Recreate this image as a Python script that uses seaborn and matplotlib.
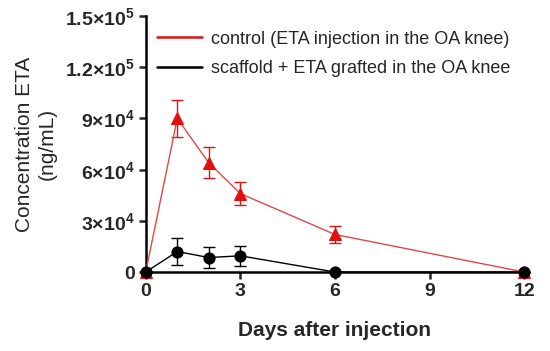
import matplotlib
matplotlib.use("Agg")
import matplotlib.pyplot as plt
import seaborn as sns
import pandas as pd

# Data
days = [0, 1, 2, 3, 6, 12]
control = [0, 90000, 64000, 46000, 22000, 0]
control_err = [0, 11000, 9000, 7000, 5000, 0]
scaffold = [0, 12000, 8500, 9500, 0, 0]
scaffold_err = [0, 8000, 6000, 6000, 0, 0]

x_ticks = [0, 3, 6, 9, 12]
y_ticks = [0, 30000, 60000, 90000, 120000, 150000]
y_tick_labels = ["0", r"$\mathbf{3{\times}10^{4}}$", r"$\mathbf{6{\times}10^{4}}$",
                 r"$\mathbf{9{\times}10^{4}}$", r"$\mathbf{1.2{\times}10^{5}}$",
                 r"$\mathbf{1.5{\times}10^{5}}$"]

RED = "#e01010"
RED_LINE = "#e04848"
BLACK = "#000000"

sns.set_style("white")
plt.rcParams["font.family"] = ["Liberation Sans", "DejaVu Sans"]
plt.rcParams["mathtext.fontset"] = "custom"
plt.rcParams["mathtext.rm"] = "Liberation Sans"
plt.rcParams["mathtext.bf"] = "Liberation Sans:bold"

df = pd.DataFrame({
    "day": days * 2,
    "conc": control + scaffold,
    "group": ["control"] * len(days) + ["scaffold"] * len(days),
})

fig = plt.figure(figsize=(5.5, 3.51), dpi=100)
ax = fig.add_axes([0.265, 0.225, 0.688, 0.729])

# error bars
ax.errorbar(days, control, yerr=control_err, fmt="none", ecolor=RED,
            elinewidth=1.0, capsize=4, capthick=1.0, clip_on=False, zorder=2)
ax.errorbar(days, scaffold, yerr=scaffold_err, fmt="none", ecolor=BLACK,
            elinewidth=1.0, capsize=4, capthick=1.0, clip_on=False, zorder=2)

sns.lineplot(data=df[df["group"] == "control"], x="day", y="conc",
             color=RED_LINE, marker="^", markersize=9, markerfacecolor=RED,
             markeredgecolor=RED, linewidth=1.0, ax=ax, clip_on=False,
             zorder=3, legend=False)
sns.lineplot(data=df[df["group"] == "scaffold"], x="day", y="conc",
             color=BLACK, marker="o", markersize=8, markeredgecolor=BLACK,
             linewidth=1.0, ax=ax, clip_on=False, zorder=4, legend=False)

# legend with plain line handles
h1, = ax.plot([], [], color=RED, linewidth=1.8)
h2, = ax.plot([], [], color=BLACK, linewidth=1.8)
ax.legend([h1, h2], ["control (ETA injection in the OA knee)",
                     "scaffold + ETA grafted in the OA knee"],
          loc="upper left", bbox_to_anchor=(0.029, 0.943), frameon=False,
          fontsize=13, handlelength=2.5, handletextpad=0.5, labelspacing=0.67,
          borderaxespad=0, borderpad=0)

ax.set_xlim(0, 12)
ax.set_ylim(0, 150000)
ax.set_xticks(x_ticks)
ax.set_yticks(y_ticks)
ax.set_yticklabels(y_tick_labels)
ax.tick_params(axis="both", direction="out", length=5, width=1.8,
               labelsize=14, pad=3, left=True, bottom=True)
for lab in ax.get_xticklabels() + ax.get_yticklabels():
    lab.set_fontweight("bold")

for side in ["top", "right"]:
    ax.spines[side].set_visible(False)
for side in ["left", "bottom"]:
    ax.spines[side].set_linewidth(1.8)
    ax.spines[side].set_color("black")

ax.set_xlabel("Days after injection", fontsize=15, fontweight="bold", labelpad=15)
ax.set_ylabel("Concentration ETA\n(ng/mL)", fontsize=15, labelpad=6,
              linespacing=1.25)

fig.savefig("out.png", dpi=100)
